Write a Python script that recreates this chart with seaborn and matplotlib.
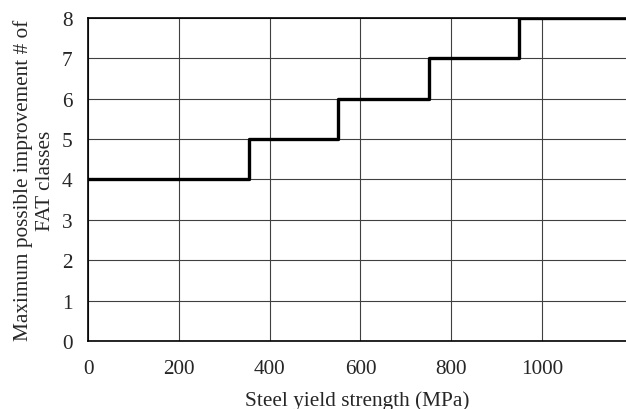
import matplotlib
matplotlib.use("Agg")
import matplotlib.pyplot as plt
import seaborn as sns
import pandas as pd

yield_strength = [0, 355, 550, 750, 950, 1185]
fat_improvement = [4, 5, 6, 7, 8, 8]
x_ticks = [0, 200, 400, 600, 800, 1000]
y_ticks = [0, 1, 2, 3, 4, 5, 6, 7, 8]

sns.set_style("white")
plt.rcParams['font.family'] = ['Liberation Serif', 'DejaVu Serif']

df = pd.DataFrame({"x": yield_strength, "y": fat_improvement})

fig = plt.figure(figsize=(6.26, 4.10), dpi=100)
ax = fig.add_axes([0.1406, 0.166, 0.8594, 0.788])
sns.lineplot(data=df, x="x", y="y", estimator=None, drawstyle="steps-post",
             color="black", linewidth=2.4, ax=ax, zorder=3)

fs = 15.3
ax.set_xlim(0, 1185)
ax.set_ylim(0, 8)
ax.set_xticks(x_ticks)
ax.set_yticks(y_ticks)
ax.grid(True, color="#404040", linewidth=0.8)
ax.set_axisbelow(True)
for s in ["left", "bottom", "top"]:
    ax.spines[s].set_color("black")
    ax.spines[s].set_linewidth(1.2)
ax.spines["right"].set_visible(False)
ax.tick_params(axis="both", length=0, labelsize=fs)
ax.tick_params(axis="x", pad=13)
ax.tick_params(axis="y", pad=11)
ax.set_xlabel("Steel yield strength (MPa)", fontsize=fs, labelpad=9)
ax.set_ylabel("Maximum possible improvement # of\nFAT classes", fontsize=fs,
              labelpad=5, linespacing=1.25)

fig.savefig("out.png", dpi=100)
